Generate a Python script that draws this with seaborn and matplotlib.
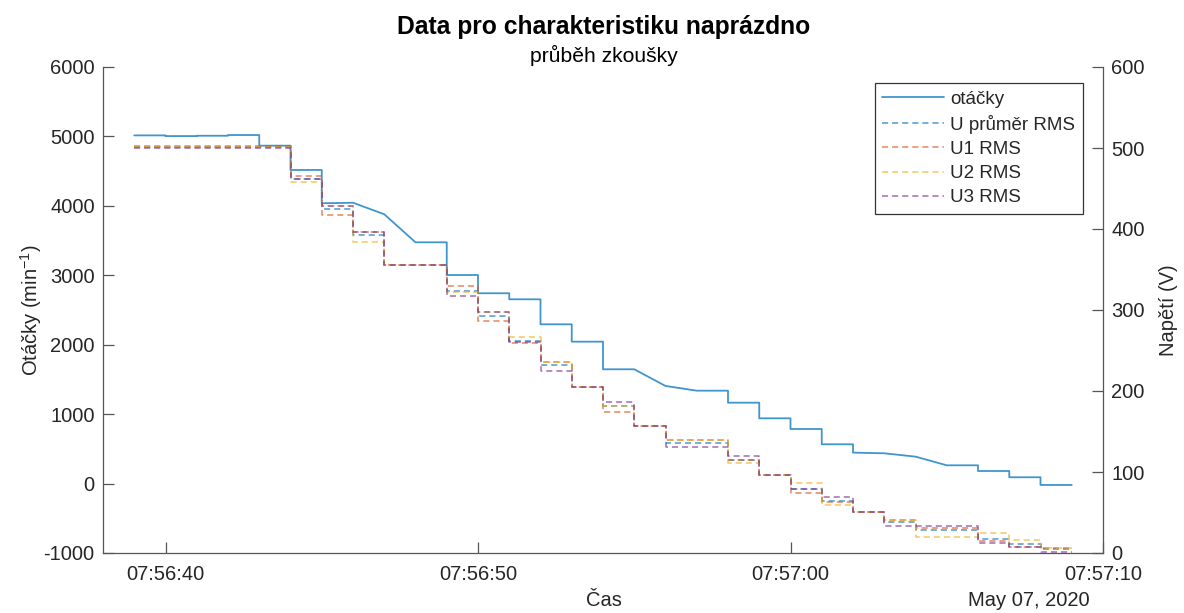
import numpy as np
import pandas as pd
import matplotlib
matplotlib.use("Agg")
import matplotlib.pyplot as plt
import seaborn as sns
from matplotlib.ticker import FixedLocator, FuncFormatter

# ---- data (time = seconds after 07:56:00, May 07, 2020) ----
interval_start = list(range(39, 69))  # thirty one-second intervals

rpm_start = [5015, 5005, 5010, 5020, 4867, 4517, 4037, 4045, 3879, 3475,
             3004, 2741, 2654, 2294, 2044, 1646, 1646, 1406, 1338, 1165,
             940, 786, 566, 446, 436, 388, 263, 181, 91, -20]
rpm_end = [5015, 5005, 5010, 5020, 4867, 4517, 4045, 3879, 3475, 3475,
           3004, 2741, 2654, 2294, 2044, 1646, 1406, 1338, 1338, 1165,
           940, 786, 566, 436, 388, 263, 263, 181, 91, -20]

u_avg = [501, 501, 501, 501, 501, 462, 425, 392, 355, 355,
         323, 293, 262, 232, 205, 181, 157, 136, 136, 115,
         96, 79.5, 64, 50.5, 38.4, 28.4, 28.4, 17.3, 10.5, 4.9]
u1 = [502, 502, 502, 502, 502, 466, 417, 396, 355, 355,
      330, 286, 259, 236, 205, 174, 157, 139.5, 139.5, 115,
      96, 74, 63.5, 50.5, 40.5, 31.4, 31.4, 15, 8, 6.5]
u2 = [501, 501, 501, 501, 501, 458, 429, 384, 355, 355,
      322, 297, 267, 236, 205, 181, 157, 139.5, 139.5, 110.5,
      96, 86, 59.5, 50.5, 41, 20.1, 20.1, 25, 15.6, 6.5]
u3 = [500, 500, 500, 500, 500, 462, 429, 396, 355, 355,
      317, 297, 260, 225, 205, 187, 157, 130.5, 130.5, 120,
      96, 79, 69, 50.5, 33.7, 33.7, 33.7, 12, 8, 1.6]

x_ticks = [40, 50, 60, 70]
x_tick_labels = ["07:56:40", "07:56:50", "07:57:00", "07:57:10"]
date_label = "May 07, 2020"

# ---- build tables ----
rpm_rows = []
for t, a, b in zip(interval_start, rpm_start, rpm_end):
    rpm_rows.append((t, a))
    rpm_rows.append((t + 1, b))
df_rpm = pd.DataFrame(rpm_rows, columns=["t", "rpm"])

t_step = interval_start + [interval_start[-1] + 1]
df_u = pd.DataFrame({
    "t": t_step,
    "U průměr RMS": u_avg + [u_avg[-1]],
    "U1 RMS": u1 + [u1[-1]],
    "U2 RMS": u2 + [u2[-1]],
    "U3 RMS": u3 + [u3[-1]],
})

# ---- style ----
sns.set_theme(style="ticks")
plt.rcParams["font.family"] = ["Liberation Sans", "DejaVu Sans"]
plt.rcParams["mathtext.fontset"] = "custom"
plt.rcParams["mathtext.rm"] = "Liberation Sans"
plt.rcParams["mathtext.it"] = "Liberation Sans"
plt.rcParams["axes.unicode_minus"] = False

txt = "#262626"
axc = "#555555"
fs = 14.5

fig = plt.figure(figsize=(11.84, 6.13), dpi=100)
ax = fig.add_axes([103 / 1184, 1 - 553 / 613, 1000 / 1184, 486 / 613])
ax2 = ax.twinx()

blue = "#0072BD"
sns.lineplot(data=df_rpm, x="t", y="rpm", ax=ax, estimator=None, sort=False,
             color=blue, alpha=0.75, linewidth=1.3, label="otáčky")

u_colors = {"U průměr RMS": "#0072BD", "U1 RMS": "#D95319",
            "U2 RMS": "#EDB120", "U3 RMS": "#7E2F8E"}
for name, col in u_colors.items():
    sns.lineplot(data=df_u, x="t", y=name, ax=ax2, estimator=None, sort=False,
                 color=col, alpha=0.7, linewidth=1.1,
                 linestyle=(0, (4, 2.6)), drawstyle="steps-post", label=name)

for a in (ax, ax2):
    leg = a.get_legend()
    if leg is not None:
        leg.remove()

ax.set_xlim(38, 70)
ax.set_ylim(-1000, 6000)
ax2.set_ylim(0, 600)
ax.yaxis.set_major_locator(FixedLocator(range(-1000, 6001, 1000)))
ax2.yaxis.set_major_locator(FixedLocator(range(0, 601, 100)))
ax.xaxis.set_major_locator(FixedLocator(x_ticks))
ax.xaxis.set_major_formatter(FuncFormatter(lambda v, p: x_tick_labels[x_ticks.index(int(round(v)))] if int(round(v)) in x_ticks else ""))

for a in (ax, ax2):
    a.spines["top"].set_visible(False)
    for s in a.spines.values():
        s.set_color(axc)
        s.set_linewidth(0.9)
ax.spines["right"].set_visible(False)
ax2.spines["left"].set_visible(False)
ax2.spines["bottom"].set_visible(False)

ax.tick_params(axis="both", direction="in", length=8, width=0.9, color=axc,
               labelsize=fs, labelcolor=txt, pad=8)
ax.tick_params(axis="y", left=True, right=False, pad=6)
ax.tick_params(axis="x", bottom=True, top=False, pad=9)
ax2.tick_params(axis="y", direction="in", length=8, width=0.9, color=axc,
                labelsize=fs, labelcolor=txt, right=True, left=False, pad=6)

ax.set_xlabel("")
ax.set_ylabel("Otáčky (min$^{-1}$)", fontsize=fs, color=txt, labelpad=0)
ax2.set_ylabel("Napětí (V)", fontsize=fs, color=txt, labelpad=10)

fig.text(604 / 1184, 1 - 27 / 613, "Data pro charakteristiku naprázdno",
         ha="center", va="center", fontsize=17.7, fontweight="bold", color="black")
fig.text(604 / 1184, 1 - 55 / 613, "průběh zkoušky",
         ha="center", va="center", fontsize=15.2, color="black")
fig.text(604 / 1184, 1 - 601 / 613, "Čas", ha="center", va="center",
         fontsize=fs, color=txt)
fig.text(1090 / 1184, 1 - 601 / 613, date_label, ha="right", va="center",
         fontsize=fs, color=txt)

handles = ax.get_lines()[:1] + ax2.get_lines()[:4]
labels = ["otáčky"] + list(u_colors.keys())
leg = ax2.legend(handles, labels, loc="upper right",
                 bbox_to_anchor=(1083 / 1184, 1 - 83 / 613),
                 bbox_transform=fig.transFigure, fontsize=13.5,
                 frameon=True, fancybox=False, framealpha=1,
                 edgecolor="#333333", handlelength=3.3, handletextpad=0.35,
                 labelspacing=0.38, borderpad=0.4, borderaxespad=0)
leg.get_frame().set_linewidth(0.9)
for t in leg.get_texts():
    t.set_color(txt)

fig.savefig("out.png", dpi=100)
